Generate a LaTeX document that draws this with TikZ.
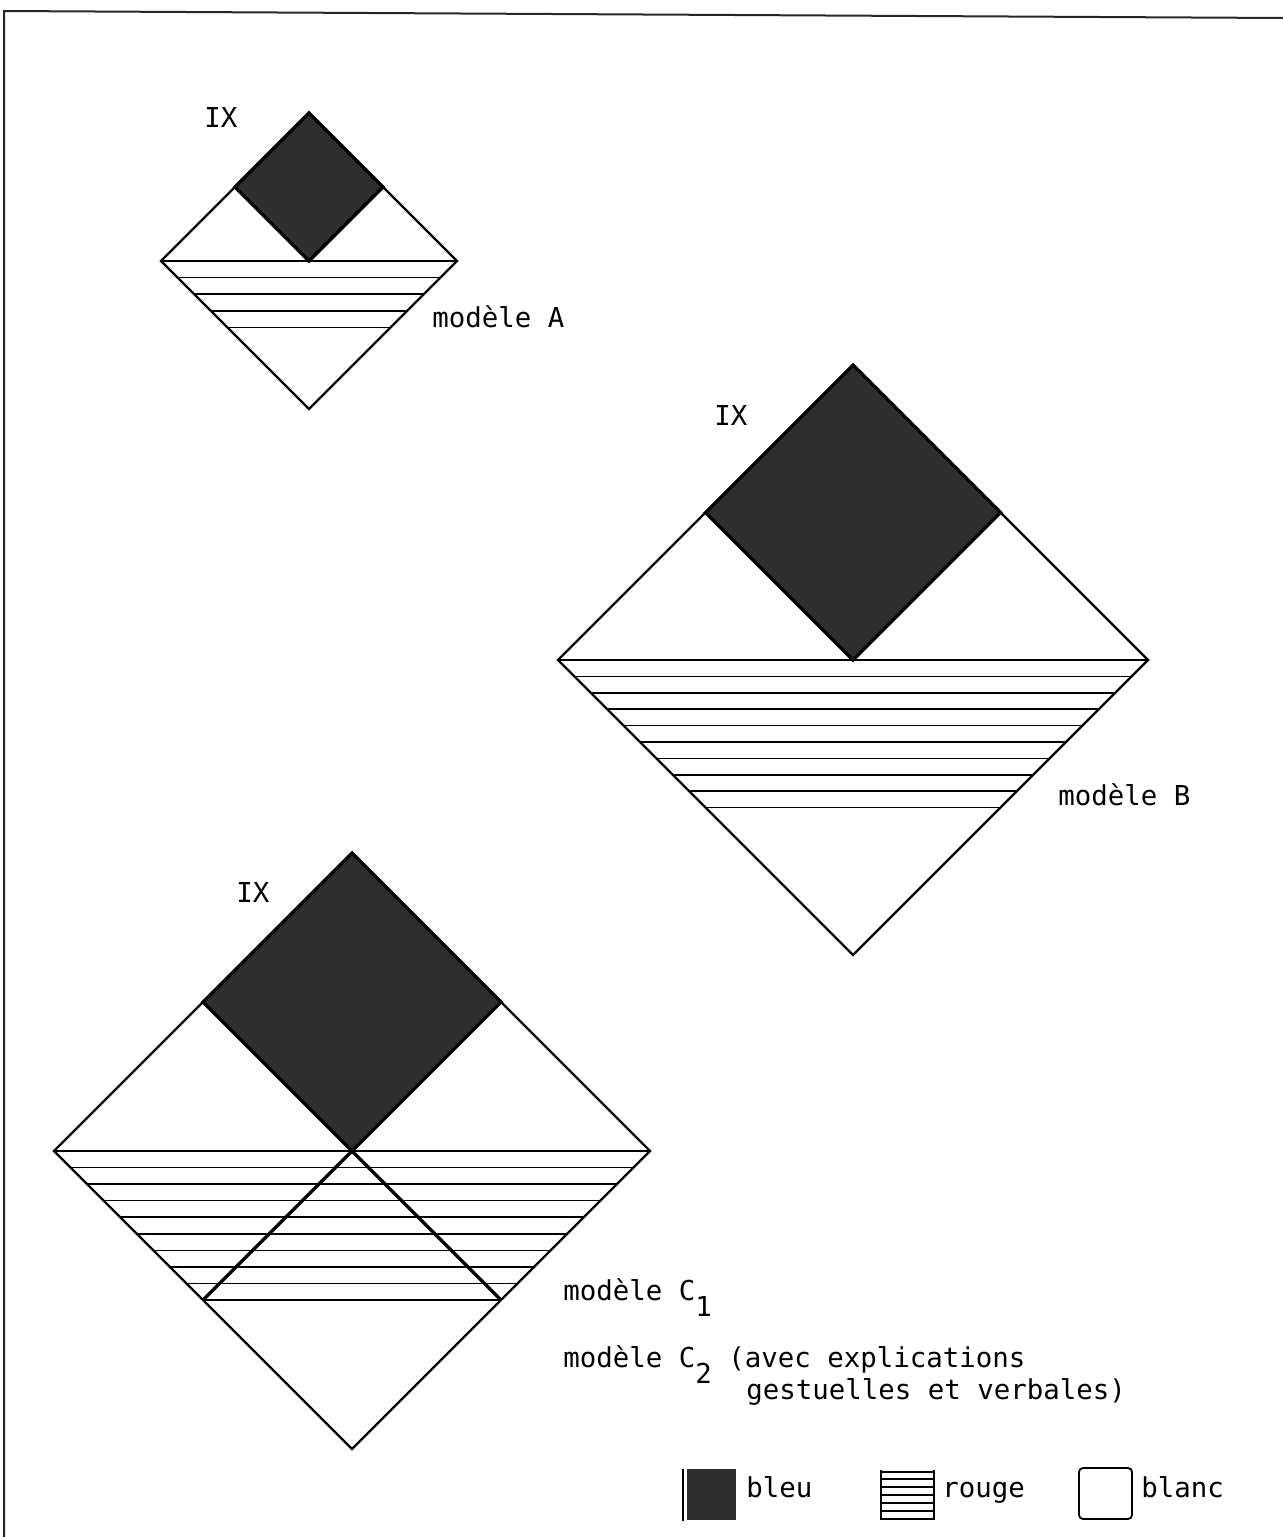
\documentclass[tikz,border=0pt]{standalone}
\usepackage{fontspec}
\setmonofont{DejaVu Sans Mono}
\definecolor{bleu}{gray}{0.18}
\tikzset{
  outline/.style={line width=1.1pt, line join=miter},
  hatchline/.style={line width=0.8pt},
  bluesq/.style={fill=bleu, draw=black, line width=1.6pt},
  vline/.style={line width=1.7pt},
  lbl/.style={font=\ttfamily\fontsize{13.7}{17}\selectfont, inner sep=0pt, anchor=base west},
  framel/.style={line width=1pt, draw=black!85}
}
% #1 cx, #2 cy, #3 half diagonal, #4 last hatch index, #5 hatch spacing
\newcommand{\mymodel}[5]{%
  \foreach \k in {0,...,#4} {
    \pgfmathsetmacro\dd{\k*#5}
    \draw[hatchline] ({#1-#3+\dd},{#2+\dd}) -- ({#1+#3-\dd},{#2+\dd});
  }
  \draw[outline] (#1,{#2-#3}) -- ({#1+#3},#2) -- (#1,{#2+#3}) -- ({#1-#3},#2) -- cycle;
  \draw[bluesq] (#1,{#2-#3}) -- ({#1+#3/2},{#2-#3/2}) -- (#1,#2) -- ({#1-#3/2},{#2-#3/2}) -- cycle;
}
\begin{document}
\begin{tikzpicture}[x=0.5pt,y=-0.5pt]
\useasboundingbox (0,0) rectangle (1283,1537);
% frame
\coordinate (ftl) at (4,11);
\coordinate (ftr) at (1283,18);
\coordinate (fbl) at (4,1537);
\draw[framel] (fbl) -- (ftl) -- (ftr);

% model A
\mymodel{309}{261}{148}{4}{16.6}
\node[lbl] (ixA) at (204,127) {IX};
\node[lbl] (modA) at (432,327) {modèle A};

% model B
\mymodel{853}{660}{295}{9}{16.4}
\node[lbl] (ixB) at (714,425) {IX};
\node[lbl] (modB) at (1058,805) {modèle B};

% model C
\mymodel{352}{1151}{298}{9}{16.55}
\coordinate (cc) at (352,1151);
\coordinate (cl) at (203,1300);
\coordinate (cr) at (501,1300);
\draw[vline] (cl) -- (cc) -- (cr);
\node[lbl] (ixC) at (236,902) {IX};
\node[lbl] (modC1) at (563,1300) {modèle C\raisebox{-8pt}{1}};
\node[lbl] (modC2) at (563,1367) {modèle C\raisebox{-8pt}{2} (avec explications};
\node[lbl] (modC2b) at (746,1399) {gestuelles et verbales)};

% legend
\fill[bleu] (687,1469) rectangle (736,1520);
\draw[line width=1pt] (683,1469) -- (683,1521);
\node[lbl] (lbleu) at (746,1497) {bleu};

\draw[line width=0.9pt] (881,1470) -- (881,1520);
\draw[line width=0.9pt] (934,1470) -- (934,1520);
\foreach \yy in {1472,1479,1487,1495,1503,1511,1519}
  \draw[hatchline] (881,\yy) -- (934,\yy);
\node[lbl] (lrouge) at (942,1497) {rouge};

\draw[line width=0.9pt, rounded corners=2pt] (1079,1468) rectangle (1132,1519);
\node[lbl] (lblanc) at (1141,1497) {blanc};
\end{tikzpicture}
\end{document}
